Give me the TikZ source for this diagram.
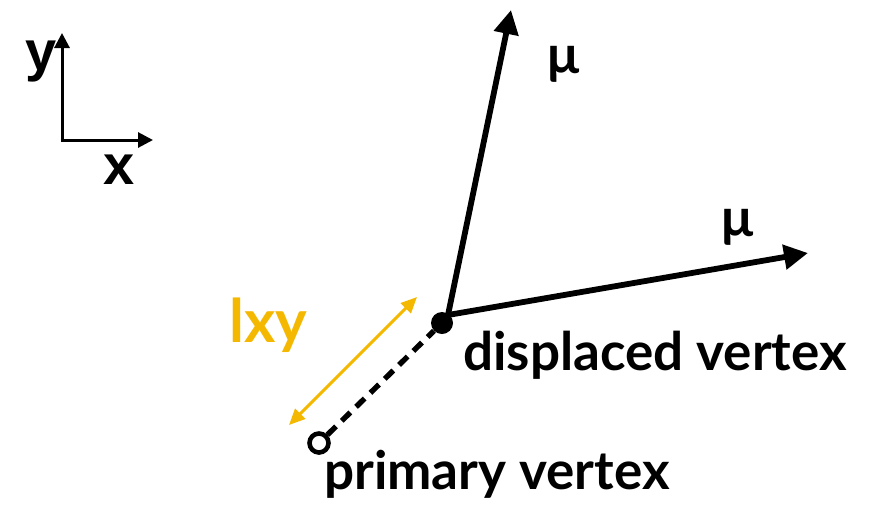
\documentclass[tikz,border=0pt]{standalone}
\usepackage{fontspec}
\setmainfont{Lato}
\newfontfamily\axisfont{Liberation Sans}
\usetikzlibrary{arrows.meta}
\definecolor{lxyorange}{HTML}{F5B800}
\begin{document}
\begin{tikzpicture}[x=1pt,y=-1pt,
  bigarrow/.style={line width=5.8pt,-{Triangle[length=24pt,width=24pt]}},
  axisarrow/.style={line width=3pt,-{Triangle[length=15pt,width=15pt]}},
  lbl/.style={inner sep=0pt,anchor=base west,font=\fontsize{53}{55}\selectfont\bfseries},
  axlbl/.style={inner sep=0pt,font=\fontsize{56}{58}\selectfont\axisfont\bfseries}]
\useasboundingbox (0,0) rectangle (884,515);
% axes
\coordinate (O) at (62,140);
\coordinate (ytip) at (62,33);
\coordinate (xtip) at (153,140);
\draw[axisarrow] ([yshift=1.5pt]O) -- (ytip);
\draw[axisarrow] ([xshift=-1.5pt]O) -- (xtip);
\node[axlbl] (ylab) at (41,62) {y};
\node[axlbl] (xlab) at (119,170) {x};
% vertices
\node[circle,fill=black,inner sep=0pt,minimum size=22pt] (dv) at (442,323) {};
\node[circle,draw=black,line width=4.6pt,fill=white,inner sep=0pt,minimum size=19pt] (pv) at (319,443) {};
\coordinate (src) at (448,315);
\coordinate (mu1tip) at (511,10);
\coordinate (mu2tip) at (808,253);
\draw[bigarrow] (src) -- (mu1tip);
\draw[bigarrow] (src) -- (mu2tip);
\draw[line width=5.4pt,dash pattern=on 12pt off 8pt] (pv) -- (dv);
% lxy
\coordinate (la) at (289,425);
\coordinate (lb) at (417,297);
\draw[lxyorange,line width=3pt,{Triangle[length=16pt,width=14pt]}-{Triangle[length=16pt,width=14pt]}] (la) -- (lb);
\node[lbl,text=lxyorange,font=\fontsize{60}{62}\selectfont\bfseries] (lxy) at (229,342) {lxy};
% labels
\node[lbl] (mu1) at (547,73) {μ};
\node[lbl] (mu2) at (721,236) {μ};
\node[lbl] (dvlab) at (463,370) {displaced vertex};
\node[lbl] (pvlab) at (324,489) {primary vertex};
\end{tikzpicture}
\end{document}
